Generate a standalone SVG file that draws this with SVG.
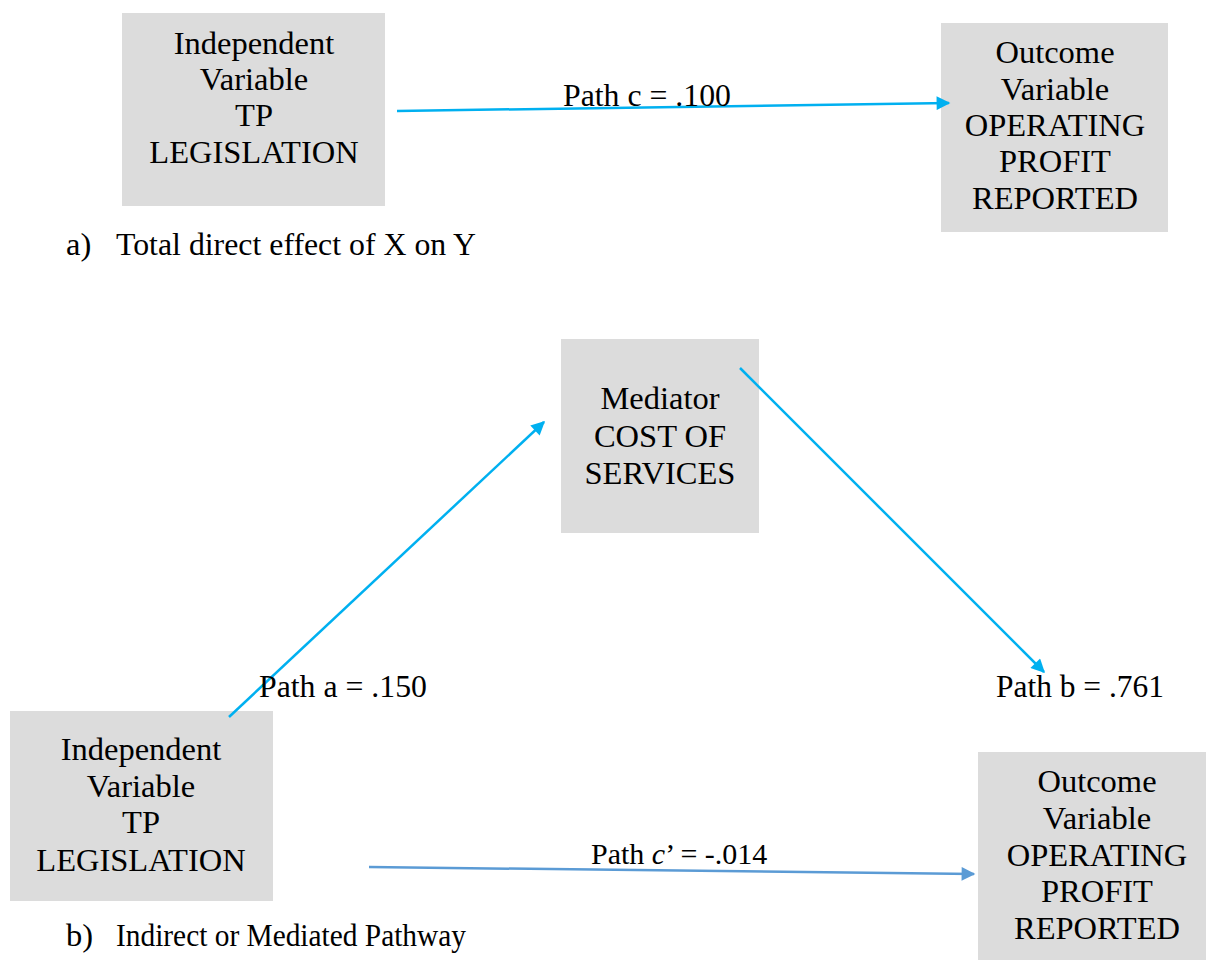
<svg xmlns="http://www.w3.org/2000/svg" width="1206" height="960" viewBox="0 0 1206 960">
<style>
.box{fill:#dcdcdc}
text{font-family:"Liberation Serif","Times New Roman",serif;font-size:32.5px;fill:#000}
.c{text-anchor:middle}
.sm{font-size:30px}
.e1{stroke:#00b0f0;stroke-width:2.5;fill:none}
.e2{stroke:#5b9bd5;stroke-width:2.5;fill:none}
</style>
<defs>
<marker id="h1" viewBox="0 0 10 10" refX="9" refY="5" markerWidth="7" markerHeight="5.5" markerUnits="strokeWidth" orient="auto"><path d="M0,0 L10,5 L0,10 z" fill="#00b0f0"/></marker>
<marker id="h2" viewBox="0 0 10 10" refX="9" refY="5" markerWidth="7" markerHeight="5.5" markerUnits="strokeWidth" orient="auto"><path d="M0,0 L10,5 L0,10 z" fill="#5b9bd5"/></marker>
</defs>
<rect width="1206" height="960" fill="#fff"/>
<g id="iv1"><rect class="box" x="122" y="13" width="263" height="193"/>
<text class="c" x="254" y="54">Independent</text><text class="c" x="254" y="90">Variable</text><text class="c" x="254" y="126">TP</text><text class="c" x="254" y="163">LEGISLATION</text></g>
<g id="ov1"><rect class="box" x="941" y="23" width="227" height="209"/>
<text class="c" x="1055" y="63">Outcome</text><text class="c" x="1055" y="100">Variable</text><text class="c" x="1055" y="136">OPERATING</text><text class="c" x="1055" y="172">PROFIT</text><text class="c" x="1055" y="209">REPORTED</text></g>
<g id="med"><rect class="box" x="561" y="339" width="198" height="194"/>
<text class="c" x="660" y="409">Mediator</text><text class="c" x="660" y="447">COST OF</text><text class="c" x="660" y="484">SERVICES</text></g>
<g id="iv2"><rect class="box" x="10" y="711" width="263" height="190"/>
<text class="c" x="141" y="760">Independent</text><text class="c" x="141" y="797">Variable</text><text class="c" x="141" y="833">TP</text><text class="c" x="141" y="871">LEGISLATION</text></g>
<g id="ov2"><rect class="box" x="978" y="752" width="228" height="208"/>
<text class="c" x="1097" y="792">Outcome</text><text class="c" x="1097" y="829">Variable</text><text class="c" x="1097" y="866">OPERATING</text><text class="c" x="1097" y="902">PROFIT</text><text class="c" x="1097" y="939">REPORTED</text></g>
<g id="connectors">
<line class="e1" x1="397" y1="111" x2="949" y2="103" marker-end="url(#h1)"/>
<line class="e1" x1="229" y1="717" x2="544" y2="422" marker-end="url(#h1)"/>
<line class="e1" x1="740" y1="368" x2="1044" y2="672" marker-end="url(#h1)"/>
<line class="e2" x1="369" y1="867" x2="974" y2="874" marker-end="url(#h2)"/>
</g>
<g id="labels">
<text x="563" y="106" textLength="168" lengthAdjust="spacingAndGlyphs">Path c = .100</text>
<text x="259" y="697" textLength="168" lengthAdjust="spacingAndGlyphs">Path a = .150</text>
<text x="996" y="697" textLength="168" lengthAdjust="spacingAndGlyphs">Path b = .761</text>
<text class="sm" x="591" y="864">Path <tspan font-style="italic">c</tspan>’ = -.014</text>
<text x="66" y="255">a)</text><text x="116" y="255" textLength="360" lengthAdjust="spacingAndGlyphs">Total direct effect of X on Y</text>
<text x="66" y="946">b)</text><text x="116" y="946" textLength="350" lengthAdjust="spacingAndGlyphs">Indirect or Mediated Pathway</text>
</g>
</svg>
